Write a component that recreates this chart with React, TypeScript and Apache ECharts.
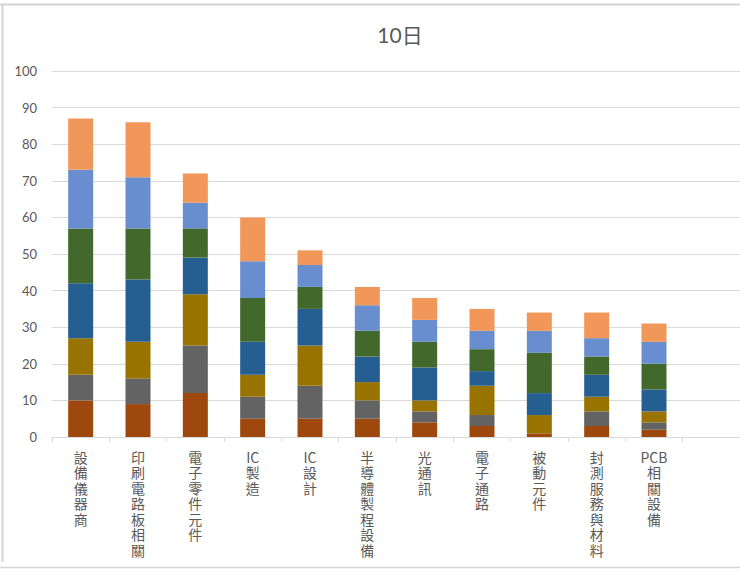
import React, { useEffect, useRef } from "react";
import * as echarts from "echarts";

const categories = [
  "設備儀器商",
  "印刷電路板相關",
  "電子零件元件",
  "IC製造",
  "IC設計",
  "半導體製程設備",
  "光通訊",
  "電子通路",
  "被動元件",
  "封測服務與材料",
  "PCB相關設備",
  "",
];

const yTicks = [0, 10, 20, 30, 40, 50, 60, 70, 80, 90, 100];

const s1 = [10, 9, 12, 5, 5, 5, 4, 3, 1, 3, 2, null];
const s2 = [7, 7, 13, 6, 9, 5, 3, 3, 0, 4, 2, null];
const s3 = [10, 10, 14, 6, 11, 5, 3, 8, 5, 4, 3, null];
const s4 = [15, 17, 10, 9, 10, 7, 9, 4, 6, 6, 6, null];
const s5 = [15, 14, 8, 12, 6, 7, 7, 6, 11, 5, 7, null];
const s6 = [16, 14, 7, 10, 6, 7, 6, 5, 6, 5, 6, null];
const s7 = [14, 15, 8, 12, 4, 5, 6, 6, 5, 7, 5, null];

const seriesNames = ["系列1", "系列2", "系列3", "系列4", "系列5", "系列6", "系列7"];
const seriesData = [s1, s2, s3, s4, s5, s6, s7];
const colors = ["#9E480E", "#636363", "#997300", "#255E91", "#43682B", "#698ED0", "#F1975A"];

function verticalize(s: string): string {
  const parts = s.match(/[A-Za-z0-9]+|./g) || [];
  return parts.join("\n");
}

export default function App() {
  const ref = useRef<HTMLDivElement>(null);
  useEffect(() => {
    if (!ref.current) return;
    const chart = echarts.init(ref.current, null, { renderer: "svg" });
    chart.setOption({
      animation: false,
      backgroundColor: "#ffffff",
      title: {
        text: "10日",
        left: 395,
        top: 19,
        textAlign: "center",
        textStyle: {
          fontSize: 21,
          fontWeight: "normal",
          color: "#595959",
          fontFamily: "Lato, 'Noto Sans CJK TC', sans-serif",
        },
      },
      grid: { left: 52, top: 71, width: 720, height: 366 },
      xAxis: {
        type: "category",
        data: categories,
        axisLine: { lineStyle: { color: "#d9d9d9", width: 1 } },
        axisTick: { show: true, length: 5, lineStyle: { color: "#d9d9d9" } },
        axisLabel: {
          interval: 0,
          margin: 12,
          fontSize: 14,
          lineHeight: 15.5,
          color: "#595959",
          fontFamily: "'Noto Sans CJK TC', sans-serif",
          formatter: (v: string) => verticalize(v),
        },
      },
      yAxis: {
        type: "value",
        min: yTicks[0],
        max: yTicks[yTicks.length - 1],
        interval: 10,
        axisLine: { show: false },
        axisTick: { show: false },
        splitLine: { lineStyle: { color: "#d9d9d9", width: 1 } },
        axisLabel: {
          margin: 15,
          fontSize: 13,
          color: "#595959",
          fontFamily: "Lato, sans-serif",
        },
      },
      graphic: [
        { type: "line", shape: { x1: 0, y1: 4.5, x2: 740, y2: 4.5 }, style: { stroke: "#d4d4d4", lineWidth: 2 } },
        { type: "line", shape: { x1: 2.5, y1: 4, x2: 2.5, y2: 562 }, style: { stroke: "#d4d4d4", lineWidth: 2 } },
        { type: "line", shape: { x1: 0, y1: 567.5, x2: 740, y2: 567.5 }, style: { stroke: "#d4d4d4", lineWidth: 1.5 } },
      ],
      series: seriesData.map((d, i) => ({
        name: seriesNames[i],
        type: "bar",
        stack: "total",
        data: d,
        barWidth: 25,
        itemStyle: { color: colors[i] },
      })),
    });
    return () => chart.dispose();
  }, []);
  return (
    <div
      ref={ref}
      style={{ position: "absolute", left: 0, top: 0, width: 740, height: 574, overflow: "hidden" }}
    />
  );
}
